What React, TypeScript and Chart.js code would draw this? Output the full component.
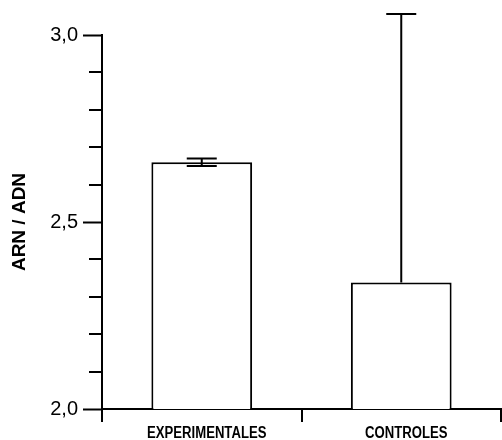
import React, { useEffect, useRef } from "react";
import { Chart, registerables } from "chart.js";

Chart.register(...registerables);

// Groups and RNA/DNA ratio (mean with error bars)
const groups = ["EXPERIMENTALES", "CONTROLES"];
const ratioMeans = [2.66, 2.338];
const errorAbove = [0.01, 0.718];
const errorBelow = [0.01, 0];

// Y axis range and tick steps
const yMin = 2.0;
const yMax = 3.0;
const yLabelStep = 0.5;
const yMinorStep = 0.1;

const isLabelled = (v: number) =>
  Math.abs(v / yLabelStep - Math.round(v / yLabelStep)) < 1e-6;

// Short unlabelled ticks on the value axis
const minorTicksPlugin = {
  id: "minorTicks",
  afterDraw(chart: any) {
    const { ctx, chartArea } = chart;
    const y = chart.scales.y;
    ctx.save();
    ctx.strokeStyle = "#000";
    ctx.lineWidth = 2;
    ctx.beginPath();
    y.ticks.forEach((t: any) => {
      if (isLabelled(t.value)) return;
      const py = Math.round(y.getPixelForValue(t.value));
      ctx.moveTo(chartArea.left - 13, py);
      ctx.lineTo(chartArea.left, py);
    });
    ctx.stroke();
    ctx.restore();
  },
};

// Condensed bold category labels under the category axis
const categoryLabelsPlugin = {
  id: "categoryLabels",
  afterDraw(chart: any) {
    const { ctx } = chart;
    const x = chart.scales.x;
    const squeeze = 0.82;
    const shift = 5;
    ctx.save();
    ctx.fillStyle = "#000";
    ctx.font = "bold 16px 'Liberation Sans', Arial, sans-serif";
    ctx.textAlign = "center";
    ctx.textBaseline = "alphabetic";
    const baseline = x.top + 29;
    x.ticks.forEach((_t: any, i: number) => {
      const px = x.getPixelForTick(i) + shift;
      ctx.save();
      ctx.translate(px, baseline);
      ctx.scale(squeeze, 1);
      ctx.fillText(String(chart.data.labels[i]), 0, 0);
      ctx.restore();
    });
    ctx.restore();
  },
};

// Error whiskers with caps over each bar
const errorBarPlugin = {
  id: "errorBars",
  afterDatasetsDraw(chart: any) {
    const { ctx } = chart;
    const y = chart.scales.y;
    const meta = chart.getDatasetMeta(0);
    const half = 15;
    ctx.save();
    ctx.strokeStyle = "#000";
    ctx.lineWidth = 2;
    meta.data.forEach((bar: any, i: number) => {
      const x = bar.x;
      const mean = ratioMeans[i];
      const top = y.getPixelForValue(mean + errorAbove[i]);
      const bottom = y.getPixelForValue(mean - errorBelow[i]);
      ctx.beginPath();
      ctx.moveTo(x, bottom);
      ctx.lineTo(x, top);
      ctx.moveTo(x - half, top);
      ctx.lineTo(x + half, top);
      if (errorBelow[i] > 0) {
        ctx.moveTo(x - half, bottom);
        ctx.lineTo(x + half, bottom);
      }
      ctx.stroke();
    });
    ctx.restore();
  },
};

export default function App() {
  const canvasRef = useRef<HTMLCanvasElement | null>(null);

  useEffect(() => {
    document.body.style.margin = "0";
    const canvas = canvasRef.current;
    if (!canvas) return;
    const chart = new Chart(canvas, {
      type: "bar",
      data: {
        labels: groups,
        datasets: [
          {
            data: ratioMeans,
            backgroundColor: "#ffffff",
            borderColor: "#000000",
            borderWidth: 2,
            borderSkipped: "bottom",
            categoryPercentage: 1,
            barPercentage: 0.505,
          },
        ],
      },
      options: {
        animation: false,
        responsive: false,
        devicePixelRatio: 1,
        layout: { padding: { top: 35, right: 1, left: 0, bottom: 0 } },
        plugins: {
          legend: { display: false },
          tooltip: { enabled: false },
        },
        scales: {
          x: {
            offset: true,
            border: { display: true, color: "#000", width: 2 },
            grid: {
              offset: true,
              drawOnChartArea: false,
              drawTicks: true,
              tickLength: 13,
              color: "#000",
              tickColor: "#000",
              tickWidth: 2,
              lineWidth: 2,
            },
            ticks: { display: false },
            afterFit: (scale: any) => {
              scale.height = 31;
            },
          },
          y: {
            min: yMin,
            max: yMax,
            border: { display: true, color: "#000", width: 2 },
            grid: {
              drawOnChartArea: false,
              drawTicks: true,
              tickLength: 19,
              tickWidth: 2,
              tickColor: (ctx: any) =>
                ctx.tick && isLabelled(ctx.tick.value) ? "#000" : "rgba(0,0,0,0)",
            },
            ticks: {
              stepSize: yMinorStep,
              autoSkip: false,
              color: "#000",
              padding: 5,
              font: { family: "'Liberation Sans', Arial, sans-serif", size: 20 },
              callback: (v: any) =>
                isLabelled(Number(v)) ? Number(v).toFixed(1).replace(".", ",") : "",
            },
            title: {
              display: true,
              text: "ARN / ADN",
              color: "#000",
              padding: { top: 8, bottom: 0 },
              font: { family: "'Liberation Sans', Arial, sans-serif", size: 19, weight: "bold" },
            },
            afterFit: (scale: any) => {
              scale.width = 102;
            },
          },
        },
      },
      plugins: [minorTicksPlugin, categoryLabelsPlugin, errorBarPlugin],
    });
    return () => chart.destroy();
  }, []);

  return (
    <div style={{ position: "absolute", left: 0, top: 0, width: 502, height: 440, background: "#fff" }}>
      <canvas ref={canvasRef} width={502} height={440} />
    </div>
  );
}
